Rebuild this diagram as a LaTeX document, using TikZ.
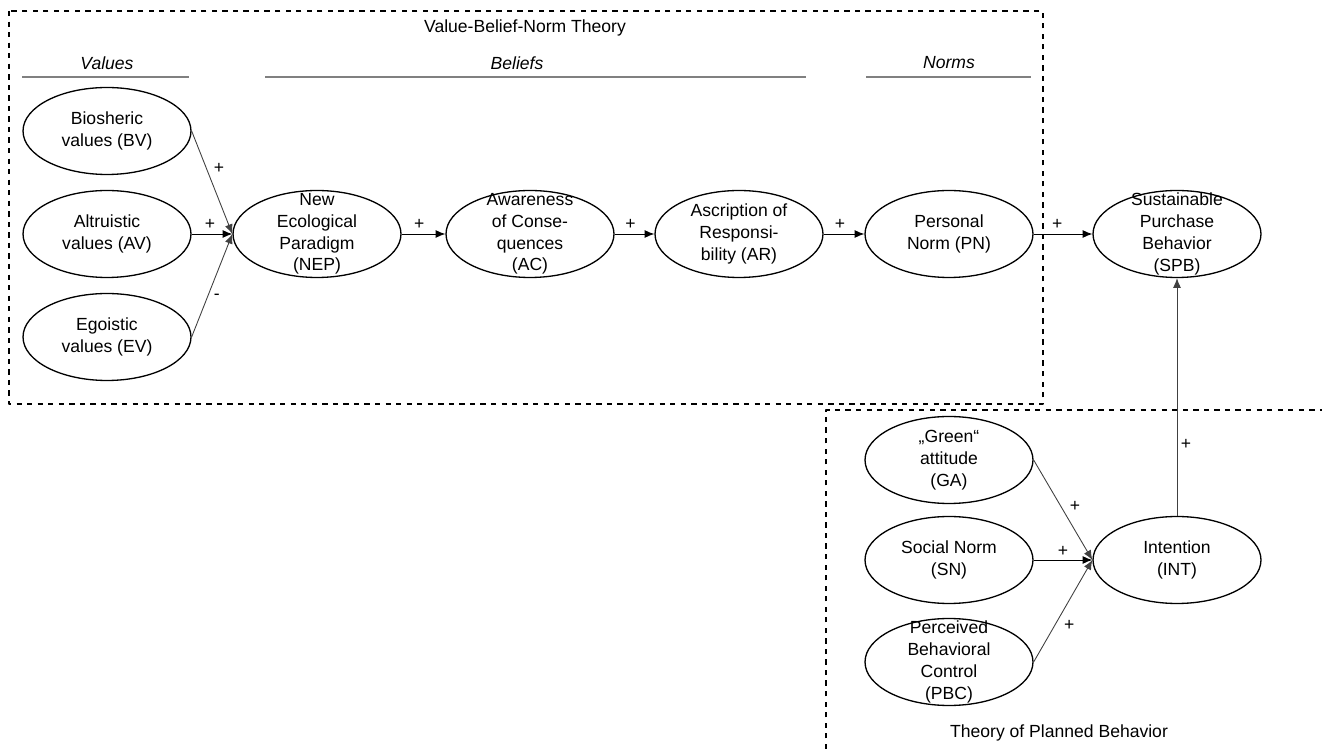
\documentclass[tikz,border=0pt]{standalone}
\usepackage{fontspec}
\setmainfont{Liberation Sans}
\usetikzlibrary{shapes.geometric,arrows.meta}

\begin{document}
\begin{tikzpicture}[line cap=butt,line join=round,>={Latex[length=5.5pt,width=4.5pt]},x=0.02cm,y=-0.02cm,
  construct/.style={draw,ellipse,line width=0.75pt,minimum width=3.36cm,minimum height=1.74cm,inner sep=0pt},
  txt/.style={align=center,font=\fontsize{10}{12.4}\selectfont},
  sign/.style={black,font=\fontsize{10}{12}\selectfont,inner sep=2pt},
  frame/.style={dashed,line width=0.7pt},
  rule/.style={gray,line width=0.7pt},
  path/.style={->,line width=0.55pt},
  slant/.style={->,line width=0.5pt,black!75}]
\useasboundingbox (0,0) rectangle (1322,749);
% theory frames
\draw[frame] (9,11) rectangle (1043,404);
\draw[frame] (826,749) -- (826,410) -- (1322,410);
\node[txt] (vbn) at (525,28) {Value-Belief-Norm Theory};
\node[txt] (tpb) at (1059,733) {Theory of Planned Behavior};
% group headings
\node[txt,font=\fontsize{10}{12}\selectfont\itshape] (values) at (107,63) {Values};
\node[txt,font=\fontsize{10}{12}\selectfont\itshape] (beliefs) at (517,63) {Beliefs};
\node[txt,font=\fontsize{10}{12}\selectfont\itshape] (norms) at (949,63) {Norms};
\draw[rule] (22,77) -- (189,77);
\draw[rule] (265,77) -- (806,77);
\draw[rule] (866,77) -- (1031,77);
% constructs
\node[construct,label={[txt]center:Biosheric\\values (BV)}] (bv) at (107,131) {};
\node[construct,label={[txt]center:Altruistic\\values (AV)}] (av) at (107,234) {};
\node[construct,label={[txt]center:Egoistic\\values (EV)}] (ev) at (107,337) {};
\node[construct,label={[txt]center:New\\Ecological\\Paradigm\\(NEP)}] (nep) at (317,234) {};
\node[construct,label={[txt]center:Awareness\\of Conse-\\quences\\(AC)}] (ac) at (530,234) {};
\node[construct,label={[txt]center:Ascription of\\Responsi-\\bility (AR)}] (ar) at (739,234) {};
\node[construct,label={[txt]center:Personal\\Norm (PN)}] (pn) at (949,234) {};
\node[construct,label={[txt]center:Sustainable\\Purchase\\Behavior\\(SPB)}] (spb) at (1177,234) {};
\node[construct,label={[txt]center:\char"201EGreen\char"201C\\attitude\\(GA)}] (ga) at (949,460) {};
\node[construct,label={[txt]center:Social Norm\\(SN)}] (sn) at (949,560) {};
\node[construct,label={[txt]center:Perceived\\Behavioral\\Control\\(PBC)}] (pbc) at (949,662) {};
\node[construct,label={[txt]center:Intention\\(INT)}] (int) at (1177,560) {};
% paths
\draw[slant] (bv.east) -- node[sign,above right,pos=0.45] {+} (nep.west);
\draw[path] (av.east) -- node[sign,above,pos=0.45] {+} (nep.west);
\draw[slant] (ev.east) -- node[sign,below right,pos=0.45] {-} (nep.west);
\draw[path] (nep.east) -- node[sign,above,pos=0.4] {+} (ac.west);
\draw[path] (ac.east) -- node[sign,above,pos=0.4] {+} (ar.west);
\draw[path] (ar.east) -- node[sign,above,pos=0.4] {+} (pn.west);
\draw[path] (pn.east) -- node[sign,above,pos=0.4] {+} (spb.west);
\draw[slant] (ga.east) -- node[sign,above right,pos=0.55] {+} (int.west);
\draw[path] (sn.east) -- node[sign,above,pos=0.5] {+} (int.west);
\draw[slant] (pbc.east) -- node[sign,below right,pos=0.45] {+} (int.west);
\draw[slant] (int.north) -- node[sign,right,pos=0.3] {+} (spb.south);
\end{tikzpicture}
\end{document}
